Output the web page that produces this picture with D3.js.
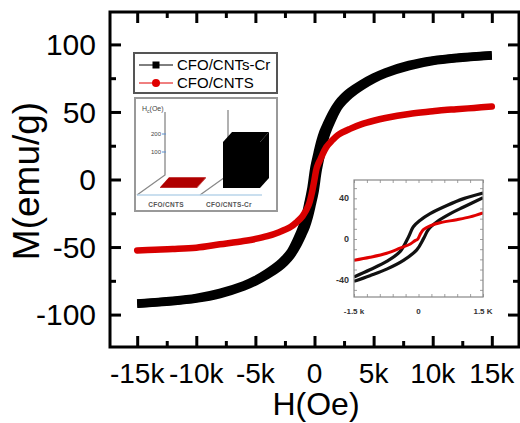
<!DOCTYPE html>
<html>
<head>
<meta charset="utf-8">
<script src="https://cdn.jsdelivr.net/npm/d3@7"></script>
<style>
  body { margin: 0; background: #fff; }
  svg { display: block; font-family: "Liberation Sans", Arial, sans-serif; }
</style>
</head>
<body>
<svg width="520" height="423"></svg>
<script>
// ---- main loop data ----
const fieldH = [-15000, -12000, -10000, -8000, -6000, -5000, -4000, -3000, -2500, -2000, -1500, -1000, -750, -500, -250, 0, 250, 500, 750, 1000, 1500, 2000, 2500, 3000, 4000, 5000, 6000, 8000, 10000, 12000, 15000];
// CFO/CNTs-Cr, descending branch and ascending branch
const crDown = [-91.8, -89.8, -87.7, -84, -78.5, -74.5, -69.3, -63, -58.8, -53.5, -45, -34.5, -27, -17, -6, 9, 19, 28, 35, 40, 49, 56, 61, 64.8, 70.6, 75.4, 79.3, 84.8, 88.2, 90.2, 92];
const crUp = [-92, -90.2, -88.2, -84.8, -79.3, -75.4, -70.6, -64.8, -61, -56, -49, -40, -35, -28, -19, -9, 6, 17, 27, 34.5, 45, 53.5, 58.8, 63, 69.3, 74.5, 78.5, 84, 87.7, 89.8, 91.8];
// CFO/CNTS
const cntH = [-15000, -13500, -12000, -10000, -8000, -6000, -5000, -4000, -3000, -2000, -1500, -1000, -500, -200, 0, 200, 500, 1000, 1500, 2000, 3000, 4000, 5000, 6000, 8000, 10000, 11000, 12000, 13500, 15000];
const cntM = [-52.5, -52, -51.5, -50.5, -48, -45.5, -44, -42, -39, -35, -31.5, -27, -19, -9, 0, 9, 15, 24, 29, 33, 37.5, 41, 43.5, 45.5, 48.5, 50.5, 51.5, 52, 53, 54];

const xTicks = [-15000, -10000, -5000, 0, 5000, 10000, 15000];
const yTicks = [-100, -50, 0, 50, 100];

// ---- zoomed loop inset ----
const zoomUpH = [-1500, -1130, -740, -430, -230, -120, 40, 270, 660, 1050, 1500];
const zoomUpM = [-37.4, -30.2, -22, -12.4, 2.3, 12, 18.5, 25, 33, 39.7, 45.2];
const zoomLoH = [-1500, -1130, -740, -350, -40, 120, 230, 430, 740, 1050, 1500];
const zoomLoM = [-41.6, -36, -29.6, -21, -10.7, 0.6, 9.4, 17, 25, 31.5, 40.6];
const zoomRedH = [-1500, -1130, -740, -430, -190, -80, -20, 50, 120, 270, 500, 890, 1200, 1500];
const zoomRedM = [-21, -18, -14, -9, -4.9, -1.6, -0.3, 5.5, 9.4, 13, 16, 19, 21.8, 25.7];
const zoomYTicks = [-40, 0, 40];
const zoomXTicks = [-1500, 0, 1500];
const zoomXLabels = ["-1.5 k", "0", "1.5 K"];

// ---- coercivity bar inset ----
const samples = ["CFO/CNTS", "CFO/CNTS-Cr"];
const hcValues = [4, 255];
const hcTicks = [100, 200];

const svg = d3.select("svg");

const x = d3.scaleLinear().domain([-17300, 17300]).range([110, 519]);
const y = d3.scaleLinear().domain([-124, 124]).range([347, 12]);

const kFmt = d => d === 0 ? "0" : (d / 1000) + "k";

// curves
const line = d3.line()
    .x(d => x(d[0]))
    .y(d => y(d[1]))
    .curve(d3.curveCatmullRom.alpha(0.5));

svg.append("defs").append("clipPath").attr("id", "plotClip")
    .append("rect").attr("x", 110).attr("y", 12).attr("width", 409).attr("height", 335);

const curves = svg.append("g").attr("clip-path", "url(#plotClip)");

[crDown, crUp].forEach(branch => {
    curves.append("path")
        .datum(fieldH.map((h, i) => [h, branch[i]]))
        .attr("d", line)
        .attr("fill", "none")
        .attr("stroke", "#000")
        .attr("stroke-width", 8.5);
});

curves.append("path")
    .datum(cntH.map((h, i) => [h, cntM[i]]))
    .attr("d", line)
    .attr("fill", "none")
    .attr("stroke", "#d80000")
    .attr("stroke-width", 6.5)
    .attr("stroke-linecap", "round");

// frame and ticks (all pointing inward)
function tickAxis(axis, transform) {
    const g = svg.append("g").attr("transform", transform).call(axis);
    g.select(".domain").remove();
    g.selectAll(".tick line").attr("stroke", "#000").attr("stroke-width", 3);
    g.selectAll(".tick text").remove();
}
const xMinor = d3.range(-15000, 15001, 2500).filter(v => v % 5000 !== 0);
const yMinor = d3.range(-100, 101, 25).filter(v => v % 50 !== 0);

tickAxis(d3.axisBottom(x).tickValues(xTicks).tickSize(-11), "translate(0,347)");
tickAxis(d3.axisBottom(x).tickValues(xMinor).tickSize(-6), "translate(0,347)");
tickAxis(d3.axisTop(x).tickValues(xTicks).tickSize(-11), "translate(0,12)");
tickAxis(d3.axisTop(x).tickValues(xMinor).tickSize(-6), "translate(0,12)");
tickAxis(d3.axisLeft(y).tickValues(yTicks).tickSize(-11), "translate(110,0)");
tickAxis(d3.axisLeft(y).tickValues(yMinor).tickSize(-6), "translate(110,0)");
tickAxis(d3.axisRight(y).tickValues(yTicks).tickSize(-11), "translate(519,0)");
tickAxis(d3.axisRight(y).tickValues(yMinor).tickSize(-6), "translate(519,0)");

svg.append("rect")
    .attr("x", 110).attr("y", 12).attr("width", 409).attr("height", 335)
    .attr("fill", "none").attr("stroke", "#000").attr("stroke-width", 3);

// tick labels
svg.append("g").selectAll("text").data(xTicks).join("text")
    .attr("x", d => x(d))
    .attr("y", 383)
    .attr("text-anchor", "middle")
    .attr("font-size", 28)
    .text(kFmt);

svg.append("g").selectAll("text").data(yTicks).join("text")
    .attr("x", 96)
    .attr("y", d => y(d))
    .attr("dy", "0.36em")
    .attr("text-anchor", "end")
    .attr("font-size", 30)
    .text(d => d);

svg.append("text")
    .attr("x", 316).attr("y", 415)
    .attr("text-anchor", "middle")
    .attr("font-size", 32)
    .text("H(Oe)");

svg.append("text")
    .attr("transform", "translate(39,181) rotate(-90)")
    .attr("text-anchor", "middle")
    .attr("font-size", 37)
    .text("M(emu/g)");

// legend
const legend = svg.append("g");
legend.append("rect")
    .attr("x", 134).attr("y", 53).attr("width", 143).attr("height", 40)
    .attr("fill", "#fff").attr("stroke", "#555").attr("stroke-width", 2);
legend.append("line").attr("x1", 139).attr("x2", 173).attr("y1", 65).attr("y2", 65)
    .attr("stroke", "#000").attr("stroke-width", 1);
legend.append("rect").attr("x", 152.5).attr("y", 61.5).attr("width", 7).attr("height", 7).attr("fill", "#000");
legend.append("line").attr("x1", 139).attr("x2", 173).attr("y1", 83).attr("y2", 83)
    .attr("stroke", "#e00000").attr("stroke-width", 1);
legend.append("circle").attr("cx", 156).attr("cy", 83).attr("r", 4).attr("fill", "#e00000");
legend.append("text").attr("x", 177).attr("y", 65).attr("dy", "0.36em")
    .attr("font-size", 15).text("CFO/CNTs-Cr");
legend.append("text").attr("x", 177).attr("y", 83).attr("dy", "0.36em")
    .attr("font-size", 15).text("CFO/CNTS");

// ---- coercivity inset ----
const bars = svg.append("g");
bars.append("rect")
    .attr("x", 135).attr("y", 98).attr("width", 142).attr("height", 113)
    .attr("fill", "#fff").attr("stroke", "#999").attr("stroke-width", 2);

const hcY = d3.scaleLinear().domain([0, 100]).range([0, 18]);
const wallY = 170;
// back walls
[[165, 112, 137], [228, 110, 200]].forEach(w => {
    bars.append("path")
        .attr("d", `M${w[0]},${w[1]}V175L${w[2]},195`)
        .attr("fill", "none").attr("stroke", "#888").attr("stroke-width", 1.3);
});
bars.append("line").attr("x1", 137).attr("x2", 262).attr("y1", 195).attr("y2", 195)
    .attr("stroke", "#b8d4ea").attr("stroke-width", 1.5);

hcTicks.forEach(t => {
    bars.append("line").attr("x1", 162).attr("x2", 166)
        .attr("y1", wallY - hcY(t)).attr("y2", wallY - hcY(t))
        .attr("stroke", "#5b8fd0").attr("stroke-width", 1);
    bars.append("text").attr("x", 161).attr("y", wallY - hcY(t)).attr("dy", "0.35em")
        .attr("text-anchor", "end").attr("font-size", 6).attr("fill", "#444").text(t);
});
const hcLabel = bars.append("text").attr("x", 142).attr("y", 111)
    .attr("font-size", 7).attr("fill", "#444");
hcLabel.append("tspan").text("H");
hcLabel.append("tspan").attr("font-size", 5).attr("dy", 2).text("c");
hcLabel.append("tspan").attr("dy", -2).text("(Oe)");

const barX = d3.scalePoint().domain(samples).range([160, 223]);
const barW = 37, depthX = 9, depthY = -10, barBase = 188;
const barColor = ["#b00000", "#000"];
samples.forEach((s, i) => {
    const x0 = barX(s), h = hcY(hcValues[i]), top = barBase - h;
    const c = barColor[i];
    bars.append("path")   // front
        .attr("d", `M${x0},${barBase}H${x0 + barW}V${top}H${x0}Z`).attr("fill", c);
    bars.append("path")   // top
        .attr("d", `M${x0},${top}L${x0 + depthX},${top + depthY}H${x0 + barW + depthX}L${x0 + barW},${top}Z`).attr("fill", c);
    bars.append("path")   // side
        .attr("d", `M${x0 + barW},${barBase}L${x0 + barW + depthX},${barBase + depthY}V${top + depthY}L${x0 + barW},${top}Z`).attr("fill", c);
    bars.append("text").attr("x", x0 + 6).attr("y", 207)
        .attr("text-anchor", "middle").attr("font-size", 6.5).attr("font-weight", "bold")
        .attr("fill", "#555").attr("letter-spacing", 0.3).text(s);
});

// ---- zoomed loop inset ----
const zx = d3.scaleLinear().domain([-1500, 1500]).range([354, 483]);
const zy = d3.scaleLinear().domain([-57, 58]).range([297, 180]);
const zin = svg.append("g");
zin.append("rect").attr("x", 354).attr("y", 180).attr("width", 129).attr("height", 117)
    .attr("fill", "#fff");

svg.select("defs").append("clipPath").attr("id", "zoomClip")
    .append("rect").attr("x", 354).attr("y", 180).attr("width", 129).attr("height", 117);

const zTicks = (axis, transform) => {
    const g = zin.append("g").attr("transform", transform).call(axis);
    g.select(".domain").remove();
    g.selectAll(".tick line").attr("stroke", "#888").attr("stroke-width", 0.8);
    g.selectAll(".tick text").remove();
};
const zxMinor = d3.range(-1500, 1501, 300);
const zyMinor = d3.range(-50, 51, 10);
zTicks(d3.axisBottom(zx).tickValues(zxMinor).tickSize(-3), "translate(0,297)");
zTicks(d3.axisTop(zx).tickValues(zxMinor).tickSize(-3), "translate(0,180)");
zTicks(d3.axisLeft(zy).tickValues(zyMinor).tickSize(-3), "translate(354,0)");
zTicks(d3.axisRight(zy).tickValues(zyMinor).tickSize(-3), "translate(483,0)");

const zline = d3.line().x(d => zx(d[0])).y(d => zy(d[1])).curve(d3.curveCatmullRom.alpha(0.5));
const zc = zin.append("g").attr("clip-path", "url(#zoomClip)");
[[zoomUpH, zoomUpM], [zoomLoH, zoomLoM]].forEach(b => {
    zc.append("path").datum(b[0].map((h, i) => [h, b[1][i]]))
        .attr("d", zline).attr("fill", "none").attr("stroke", "#111").attr("stroke-width", 3.2);
});
zc.append("path").datum(zoomRedH.map((h, i) => [h, zoomRedM[i]]))
    .attr("d", zline).attr("fill", "none").attr("stroke", "#e00000").attr("stroke-width", 3);

zin.append("rect").attr("x", 354).attr("y", 180).attr("width", 129).attr("height", 117)
    .attr("fill", "none").attr("stroke", "#888").attr("stroke-width", 1.2);

zin.selectAll(".zyl").data(zoomYTicks).join("text")
    .attr("x", 349).attr("y", d => zy(d)).attr("dy", "0.35em")
    .attr("text-anchor", "end").attr("font-size", 9).attr("font-weight", "bold")
    .attr("fill", "#333").text(d => d);
zin.selectAll(".zxl").data(zoomXTicks).join("text")
    .attr("x", d => zx(d)).attr("y", 314)
    .attr("text-anchor", "middle").attr("font-size", 8).attr("font-weight", "bold")
    .attr("fill", "#333").text((d, i) => zoomXLabels[i]);
</script>
</body>
</html>
